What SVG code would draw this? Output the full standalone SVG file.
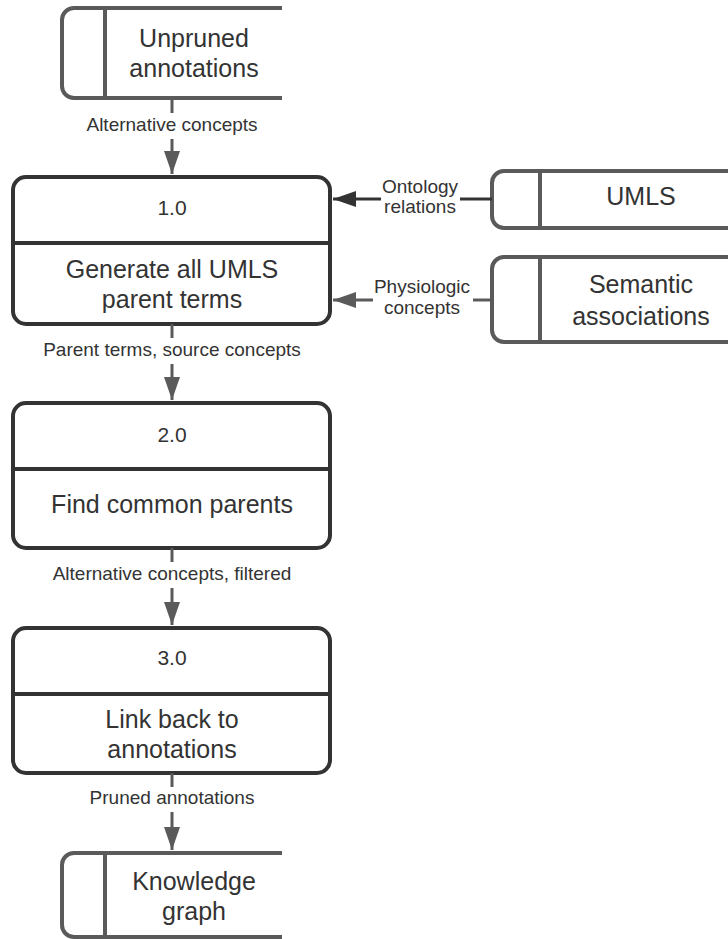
<svg xmlns="http://www.w3.org/2000/svg" width="728" height="939" viewBox="0 0 728 939">
<defs>
<style>
.proc{fill:#fff;stroke:#333;stroke-width:4}
.store{fill:none;stroke:#5a5a5a;stroke-width:4}
.conn{fill:none;stroke:#5a5a5a;stroke-width:3}
.dark{stroke:#333}
.t{font-family:"Liberation Sans",Arial,sans-serif;fill:#333;text-anchor:middle}
.big{font-size:25px}
.num{font-size:21px}
.lbl{font-size:19px}
</style>
<marker id="ah" markerUnits="userSpaceOnUse" markerWidth="24" markerHeight="16" viewBox="0 0 24 16" refX="23" refY="8" orient="auto">
<path d="M0,0 L23,8 L0,16 z" fill="#5a5a5a"/>
</marker>
<marker id="ahd" markerUnits="userSpaceOnUse" markerWidth="24" markerHeight="16" viewBox="0 0 24 16" refX="23" refY="8" orient="auto">
<path d="M0,0 L23,8 L0,16 z" fill="#333"/>
</marker>
</defs>
<rect width="728" height="939" fill="#fff"/>

<g id="unpruned">
<path class="store" d="M282,8 H74 A12,12 0 0 0 62,20 V86 A12,12 0 0 0 74,98 H282"/>
<line class="store" x1="105" y1="8" x2="105" y2="98"/>
<text class="t big" x="194" y="47">Unpruned</text>
<text class="t big" x="194" y="77">annotations</text>
</g>

<g id="umls">
<path class="store" d="M730,171 H504 A12,12 0 0 0 492,183 V216 A12,12 0 0 0 504,228 H730"/>
<line class="store" x1="540" y1="171" x2="540" y2="228"/>
<text class="t big" x="641" y="205">UMLS</text>
</g>

<g id="semantic">
<path class="store" d="M730,257 H504 A12,12 0 0 0 492,269 V330 A12,12 0 0 0 504,342 H730"/>
<line class="store" x1="540" y1="257" x2="540" y2="342"/>
<text class="t big" x="641" y="293">Semantic</text>
<text class="t big" x="641" y="325">associations</text>
</g>

<g id="p1">
<rect class="proc" x="13" y="177" width="317" height="147" rx="13"/>
<line class="proc" x1="13" y1="243" x2="330" y2="243"/>
<text class="t num" x="172" y="215">1.0</text>
<text class="t big" x="172" y="278">Generate all UMLS</text>
<text class="t big" x="172" y="308">parent terms</text>
</g>

<g id="p2">
<rect class="proc" x="13" y="403" width="317" height="145" rx="13"/>
<line class="proc" x1="13" y1="469" x2="330" y2="469"/>
<text class="t num" x="172" y="442">2.0</text>
<text class="t big" x="172" y="513">Find common parents</text>
</g>

<g id="p3">
<rect class="proc" x="13" y="628" width="317" height="145" rx="13"/>
<line class="proc" x1="13" y1="694" x2="330" y2="694"/>
<text class="t num" x="172" y="665">3.0</text>
<text class="t big" x="172" y="728">Link back to</text>
<text class="t big" x="172" y="758">annotations</text>
</g>

<g id="knowledge">
<path class="store" d="M282,853 H74 A12,12 0 0 0 62,865 V925 A12,12 0 0 0 74,937 H282"/>
<line class="store" x1="105" y1="853" x2="105" y2="937"/>
<text class="t big" x="194" y="890">Knowledge</text>
<text class="t big" x="194" y="920">graph</text>
</g>

<g id="connectors">
<line class="conn" x1="172" y1="98" x2="172" y2="113"/>
<line class="conn" x1="172" y1="139" x2="172" y2="174" marker-end="url(#ah)"/>
<text class="t lbl" x="172" y="131">Alternative concepts</text>

<line class="conn dark" x1="492" y1="199" x2="460" y2="199"/>
<line class="conn dark" x1="381" y1="199" x2="333" y2="199" marker-end="url(#ahd)"/>
<text class="t lbl" x="420" y="193">Ontology</text>
<text class="t lbl" x="420" y="213">relations</text>

<line class="conn" x1="492" y1="300" x2="473" y2="300"/>
<line class="conn" x1="373" y1="300" x2="333" y2="300" marker-end="url(#ah)"/>
<text class="t lbl" x="422" y="293">Physiologic</text>
<text class="t lbl" x="422" y="314">concepts</text>

<line class="conn" x1="172" y1="324" x2="172" y2="338"/>
<line class="conn" x1="172" y1="364" x2="172" y2="400" marker-end="url(#ah)"/>
<text class="t lbl" x="172" y="356">Parent terms, source concepts</text>

<line class="conn" x1="172" y1="548" x2="172" y2="562"/>
<line class="conn" x1="172" y1="588" x2="172" y2="625" marker-end="url(#ah)"/>
<text class="t lbl" x="172" y="580">Alternative concepts, filtered</text>

<line class="conn" x1="172" y1="773" x2="172" y2="787"/>
<line class="conn" x1="172" y1="812" x2="172" y2="850" marker-end="url(#ah)"/>
<text class="t lbl" x="172" y="804">Pruned annotations</text>
</g>
</svg>
